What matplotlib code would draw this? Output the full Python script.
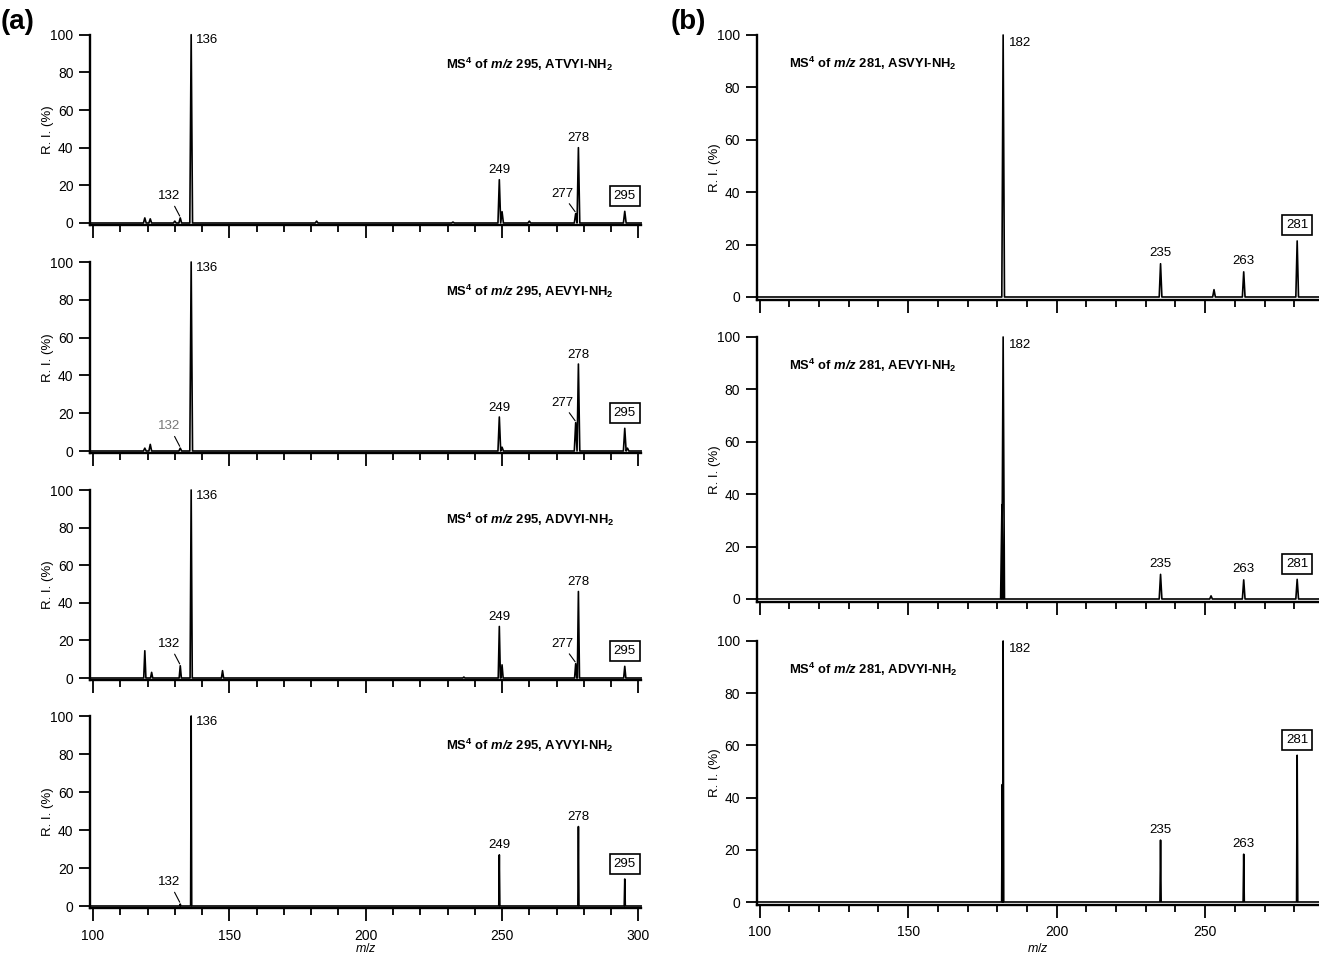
import matplotlib.pyplot as plt
import numpy as np

plt.rcParams['font.family'] = ['Liberation Sans', 'DejaVu Sans']
plt.rcParams['mathtext.fontset'] = 'custom'
plt.rcParams['mathtext.rm'] = 'Liberation Sans'
plt.rcParams['mathtext.it'] = 'Liberation Sans:italic'
plt.rcParams['mathtext.bf'] = 'Liberation Sans:bold'
plt.rcParams['mathtext.bfit'] = 'Liberation Sans:bold:italic'

# (a) MS4 of m/z 295
a_peptides = ['ATVYI', 'AEVYI', 'ADVYI', 'AYVYI']
a_mz = [
    [119, 121, 130, 132, 136, 182, 232, 249, 250, 260, 277, 278, 295],
    [119, 121, 132, 136, 249, 250, 277, 278, 295, 296],
    [119, 121.5, 132, 136, 147.5, 236, 249, 250, 277, 278, 295],
    [132, 136, 249, 278, 295],
]
a_ri = [
    [2.7, 2.2, 1.0, 2.7, 100, 1.0, 0.5, 23, 6, 1.0, 5, 40, 6.2],
    [1.5, 3.5, 1.5, 100, 18, 2, 15, 46, 12, 1.5],
    [14.5, 3, 6.5, 100, 3.9, 0.5, 27.4, 7, 7.6, 46, 6.2],
    [1.0, 100, 26.9, 41.8, 14.2],
]

# (b) MS4 of m/z 281
b_peptides = ['ASVYI', 'AEVYI', 'ADVYI']
b_mz = [
    [182, 235, 253, 263, 281],
    [181.6, 182, 235, 252, 263, 281],
    [181.7, 182, 235, 263, 281],
]
b_ri = [
    [100, 12.7, 2.8, 9.6, 21.4],
    [36, 100, 9.4, 1.2, 7.3, 7.5],
    [45, 100, 23.7, 18.3, 56.2],
]

# peak half-widths (profile vs centroid look)
a_width = [0.5, 0.5, 0.4, 0.2]
b_width = [0.45, 0.45, 0.2]

W, H = 1319, 956
fig = plt.figure(figsize=(W / 100, H / 100), dpi=100)


def make_axes(x0px, ux, xlim, y100, y0):
    uy = (y0 - y100) / 100.0
    left = x0px - (100 - xlim[0]) * ux
    width = (xlim[1] - xlim[0]) * ux
    bottom = y0 + 1.0 * uy
    height = 101.0 * uy
    ax = fig.add_axes([left / W, 1 - bottom / H, width / W, height / H])
    for s in ['top', 'right']:
        ax.spines[s].set_visible(False)
    for s in ['left', 'bottom']:
        ax.spines[s].set_linewidth(1.7)
    ax.set_yticks([0, 20, 40, 60, 80, 100])
    ax.set_xticks(np.arange(100, 301, 50))
    ax.set_xticks(np.arange(100, 301, 10), minor=True)
    ax.set_xlim(*xlim)
    ax.set_ylim(-1, 100)
    ax.tick_params(axis='y', length=8, width=1.3, pad=4, labelsize=10)
    ax.tick_params(axis='x', which='major', length=9, width=1.3, pad=6, labelsize=10)
    ax.tick_params(axis='x', which='minor', length=5, width=1.3)
    ax.set_ylabel('R. I. (%)', fontsize=9.5)
    ax.yaxis.set_label_coords((x0px - 39 - left) / width, 0.5)
    ax.set_xlabel('$m/z$', fontsize=9)
    ax.xaxis.set_label_coords(0.5, -(942 - bottom) / height)
    ax.xaxis.label.set_va('top')
    ax.patch.set_visible(False)
    return ax


def spectrum(ax, mz, ri, w, xlim):
    xs, ys = [xlim[0]], [0]
    for m, h in sorted(zip(mz, ri)):
        xs += [m - w, m, m + w]
        ys += [0, h, 0]
    xs.append(xlim[1])
    ys.append(0)
    ax.plot(xs, ys, color='black', lw=1.2, clip_on=False, zorder=3)


def label_above(ax, m, h, dy):
    ax.text(m, h + dy, str(m), ha='center', va='center', fontsize=9.5)


def label_box(ax, m, h, dy):
    ax.text(m, h + dy, str(m), ha='center', va='center', fontsize=9.5,
            bbox=dict(boxstyle='square,pad=0.3', fc='white', ec='black', lw=1.2))


def label_lead(ax, m, h, dx, dy, color='black'):
    ax.annotate(str(m), xy=(m - 0.2, h + 1), xytext=(m + dx, h + dy),
                ha='center', va='center', fontsize=9.5, color=color,
                arrowprops=dict(arrowstyle='-', lw=0.8, color='black',
                                shrinkA=1, shrinkB=0))


# ---- panel (a)
a_rows = [(34.7, 223), (262, 451), (490, 678), (716, 906)]
a_xlim = (99, 301)
for i, (y100, y0) in enumerate(a_rows):
    ax = make_axes(93, 2.727, a_xlim, y100, y0)
    mz, ri = a_mz[i], a_ri[i]
    spectrum(ax, mz, ri, a_width[i], a_xlim)
    h = dict(zip(mz, ri))
    ax.text(137.6, 97, '136', ha='left', va='center', fontsize=9.5)
    label_above(ax, 249, h[249], 5)
    label_above(ax, 278, h[278], 5)
    label_box(ax, 295, h[295], 8)
    label_lead(ax, 132, h[132], -4, 11.5, color='#777777' if i == 1 else 'black')
    if 277 in h:
        label_lead(ax, 277, h[277], -5, 10.5)
    ax.text(229.5, 84.5, r'MS$^\mathbf{4}$ of $\mathbfit{m/z}$ 295, ' + a_peptides[i] + r'-NH$_\mathbf{2}$',
            ha='left', va='center', fontsize=9.4, fontweight='bold')
    if i < 3:
        ax.tick_params(axis='x', labelbottom=False)
        ax.set_xlabel('')

# ---- panel (b)
b_rows = [(35, 297), (337, 599), (641, 902)]
b_xlim = (99, 288.4)
for i, (y100, y0) in enumerate(b_rows):
    ax = make_axes(759.6, 2.97, b_xlim, y100, y0)
    mz, ri = b_mz[i], b_ri[i]
    spectrum(ax, mz, ri, b_width[i], b_xlim)
    h = dict(zip(mz, ri))
    ax.text(183.8, 96.8, '182', ha='left', va='center', fontsize=9.5)
    label_above(ax, 235, h[235], 4)
    label_above(ax, 263, h[263], 4)
    label_box(ax, 281, h[281], 6)
    ax.text(110, 89.2, r'MS$^\mathbf{4}$ of $\mathbfit{m/z}$ 281, ' + b_peptides[i] + r'-NH$_\mathbf{2}$',
            ha='left', va='center', fontsize=9.4, fontweight='bold')
    if i < 2:
        ax.tick_params(axis='x', labelbottom=False)
        ax.set_xlabel('')

fig.text(1 / W, 1 - 22 / H, '(a)', fontsize=20, fontweight='bold', va='center', ha='left')
fig.text(671 / W, 1 - 22 / H, '(b)', fontsize=20, fontweight='bold', va='center', ha='left')

fig.savefig('out.png', dpi=100, facecolor='white')
